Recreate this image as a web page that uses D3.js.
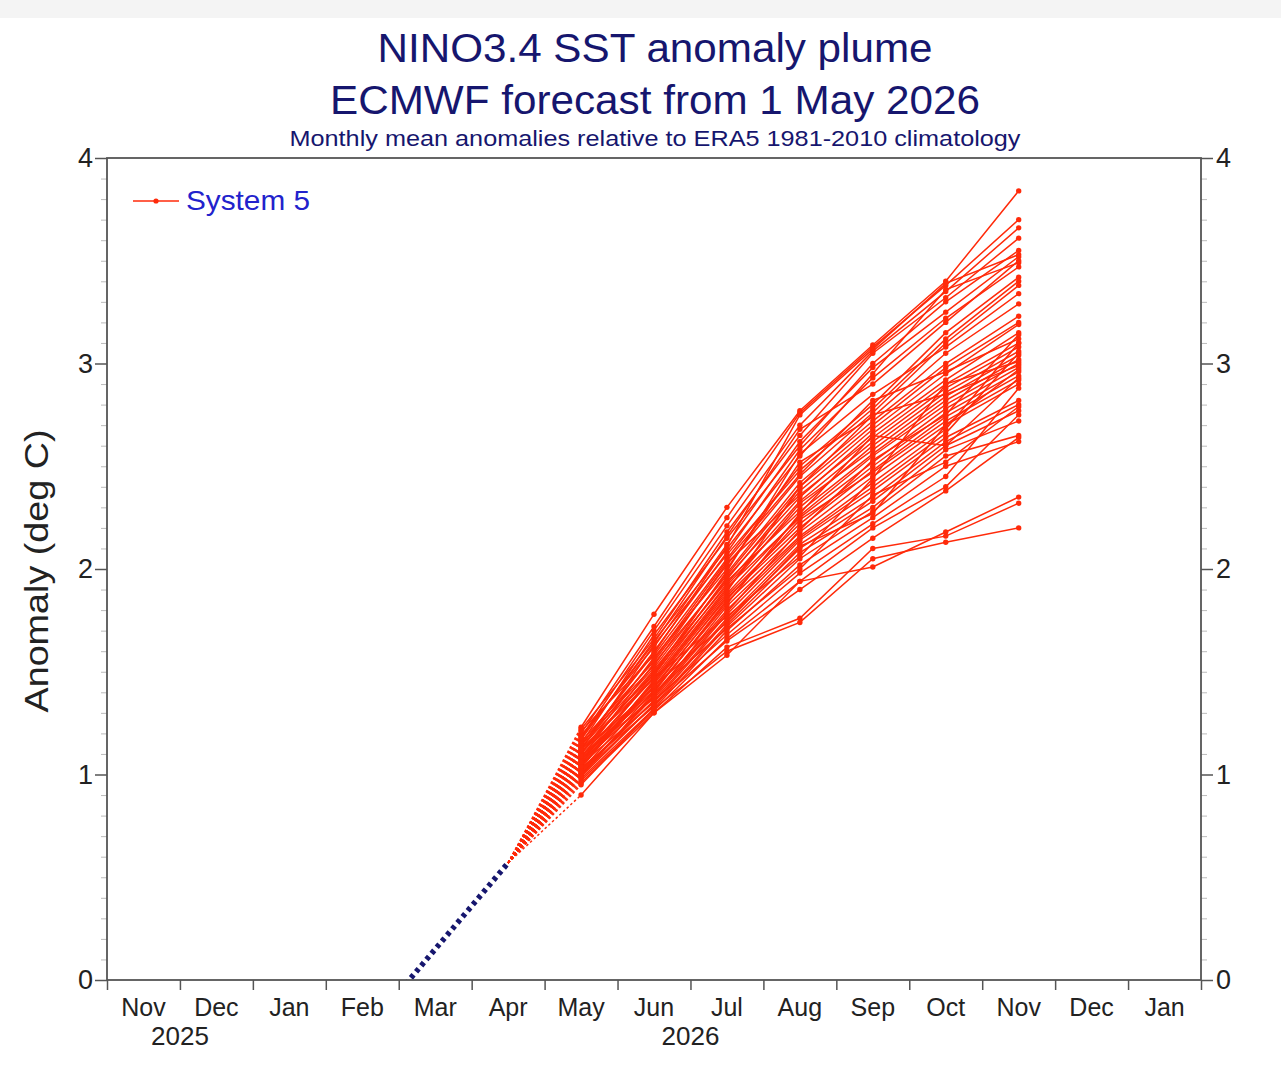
<!DOCTYPE html>
<html>
<head>
<meta charset="utf-8">
<script src="https://cdn.jsdelivr.net/npm/d3@7"></script>
<style>
  html, body { margin: 0; padding: 0; background: #fff; }
  svg { display: block; font-family: "Liberation Sans", Arial, Helvetica, sans-serif; }
</style>
</head>
<body>
<div id="chart"></div>
<script>
// month slots on the x axis (Nov 2025 .. Jan 2027)
const monthLabels = ["Nov", "Dec", "Jan", "Feb", "Mar", "Apr", "May", "Jun", "Jul", "Aug", "Sep", "Oct", "Nov", "Dec", "Jan"];
const yearLabels = [
  { label: "2025", from: 0, to: 2 },
  { label: "2026", from: 2, to: 14 }
];
const yTicks = [0, 1, 2, 3, 4];

// observed anomaly (month slot index -> value)
const obsMonths = [0, 1, 2, 3, 4, 5];
const obsValues = [-0.62, -0.58, -0.52, -0.27, 0.15, 0.57];

// forecast months (slot index), Apr is the last observed value
const fcMonths = [6, 7, 8, 9, 10, 11, 12];
// one array per forecast month, index = ensemble member (51 members)
const fcMay = [1.23, 1.20, 1.18, 1.22, 1.15, 1.19, 1.17, 1.14, 1.21, 1.12, 1.16, 1.10, 1.13, 1.08, 1.11, 1.06, 1.15, 1.09, 1.12, 1.05,
  1.10, 1.07, 1.03, 1.11, 1.04, 1.08, 1.02, 1.06, 1.00, 1.09, 1.01, 1.05, 0.99, 1.03, 0.98, 1.02, 0.97, 1.00, 0.96, 0.95,
  0.90, 1.14, 1.18, 1.07, 1.13, 1.04, 1.09, 1.01, 1.12, 0.99, 1.06];
const fcJun = [1.78, 1.72, 1.70, 1.66, 1.68, 1.62, 1.65, 1.60, 1.58, 1.63, 1.55, 1.57, 1.52, 1.54, 1.50, 1.48, 1.53, 1.47, 1.49, 1.45,
  1.51, 1.44, 1.46, 1.42, 1.43, 1.40, 1.41, 1.38, 1.39, 1.37, 1.36, 1.35, 1.34, 1.33, 1.32, 1.36, 1.31, 1.34, 1.30, 1.32,
  1.30, 1.59, 1.64, 1.49, 1.56, 1.45, 1.41, 1.38, 1.47, 1.40, 1.43];
const fcJul = [2.30, 2.25, 2.21, 2.18, 2.15, 2.12, 2.10, 2.08, 2.05, 2.07, 2.02, 2.00, 1.98, 1.97, 1.95, 1.96, 2.03, 1.93, 1.92, 1.90,
  1.94, 1.88, 1.91, 1.87, 1.86, 1.85, 1.84, 1.82, 1.80, 1.78, 1.76, 1.75, 1.73, 1.72, 1.70, 1.68, 1.66, 1.65, 1.62, 1.60,
  1.58, 2.11, 2.16, 1.99, 2.04, 1.89, 1.83, 1.79, 1.77, 1.71, 1.74];
const fcAug = [2.77, 2.76, 2.70, 2.65, 2.60, 2.62, 2.55, 2.58, 2.50, 2.48, 2.45, 2.52, 2.42, 2.40, 2.38, 2.35, 2.36, 2.33, 2.30, 2.32,
  2.28, 2.26, 2.25, 2.22, 2.20, 2.24, 2.18, 2.16, 2.15, 2.14, 2.12, 2.10, 2.08, 2.05, 2.02, 1.98, 1.94, 1.90, 1.76, 1.74,
  1.94, 2.75, 2.68, 2.56, 2.46, 2.40, 2.27, 2.19, 2.06, 2.00, 2.11];
const fcSep = [3.09, 3.08, 3.06, 3.05, 3.00, 2.98, 2.95, 2.93, 2.80, 2.78, 2.76, 2.74, 2.72, 2.70, 2.68, 2.66, 2.64, 2.62, 2.60, 2.58,
  2.56, 2.55, 2.52, 2.50, 2.48, 2.47, 2.45, 2.42, 2.40, 2.38, 2.35, 2.33, 2.30, 2.28, 2.25, 2.22, 2.20, 2.15, 2.10, 2.05,
  2.01, 3.07, 2.90, 2.85, 2.82, 2.75, 2.65, 2.53, 2.44, 2.36, 2.27];
const fcOct = [3.40, 3.38, 3.35, 3.32, 3.30, 3.25, 3.36, 3.22, 3.15, 3.12, 3.10, 3.05, 3.00, 2.98, 2.95, 2.92, 2.90, 2.88, 2.86, 2.84,
  2.82, 2.80, 2.78, 2.76, 2.74, 2.72, 2.70, 2.68, 2.66, 2.64, 2.62, 2.60, 2.58, 2.55, 2.50, 2.45, 2.40, 2.38, 2.16, 2.13,
  2.18, 3.39, 3.20, 3.08, 2.96, 2.85, 2.60, 2.75, 2.90, 2.52, 2.70];
const fcNov = [3.84, 3.70, 3.66, 3.61, 3.55, 3.52, 3.49, 3.47, 3.42, 3.40, 3.38, 3.29, 3.23, 3.20, 3.19, 3.15, 3.10, 3.08, 3.06, 3.04,
  3.02, 3.00, 2.98, 2.96, 2.94, 2.92, 2.90, 3.10, 3.05, 2.82, 2.80, 2.77, 2.72, 2.65, 2.62, 2.88, 2.75, 2.64, 2.32, 2.20,
  2.35, 3.53, 3.50, 3.34, 3.12, 2.99, 2.93, 3.14, 3.01, 2.79, 2.97];

const width = 1281;
const height = 1080;
const margin = { left: 107, right: 80, top: 158, bottom: 100 };
const plotW = width - margin.left - margin.right;   // ~1094
const plotH = height - margin.top - margin.bottom;  // ~822

const RED = "#ff2a0a";
const NAVY = "#16166e";
const AXIS = "#555";

const x = d3.scaleLinear().domain([0, monthLabels.length]).range([margin.left, margin.left + plotW]);
const y = d3.scaleLinear().domain([0, 4]).range([margin.top + plotH, margin.top]);

const svg = d3.select("#chart").append("svg")
  .attr("width", width)
  .attr("height", height)
  .attr("viewBox", [0, 0, width, height]);

svg.append("rect").attr("width", width).attr("height", height).attr("fill", "#fff");
svg.append("rect").attr("width", width).attr("height", 18).attr("fill", "#f4f4f4");

// titles (the original font is a little wider than Liberation Sans)
const titles = svg.append("g").attr("fill", NAVY).attr("text-anchor", "middle");
titles.append("text").attr("x", 655).attr("y", 62).attr("font-size", 40)
  .attr("textLength", 555).attr("lengthAdjust", "spacingAndGlyphs")
  .text("NINO3.4 SST anomaly plume");
titles.append("text").attr("x", 655).attr("y", 114).attr("font-size", 40)
  .attr("textLength", 650).attr("lengthAdjust", "spacingAndGlyphs")
  .text("ECMWF forecast from 1 May 2026");
titles.append("text").attr("x", 655).attr("y", 146).attr("font-size", 22)
  .attr("textLength", 731).attr("lengthAdjust", "spacingAndGlyphs")
  .text("Monthly mean anomalies relative to ERA5 1981-2010 climatology");

// clip to the plot box
svg.append("clipPath").attr("id", "plot-clip")
  .append("rect")
  .attr("x", margin.left).attr("y", margin.top)
  .attr("width", plotW).attr("height", plotH);

// y minor ticks (every 0.1, outward, both sides)
const minor = d3.range(0, 41).map(d => d / 10).filter(d => d % 1 !== 0);
const yAxisL = d3.axisLeft(y).tickValues(minor).tickSize(6).tickFormat("");
const yAxisR = d3.axisRight(y).tickValues(minor).tickSize(6).tickFormat("");
svg.append("g").attr("transform", `translate(${margin.left},0)`).call(yAxisL)
  .call(g => g.select(".domain").remove())
  .call(g => g.selectAll("line").attr("stroke", "#bbb"));
svg.append("g").attr("transform", `translate(${margin.left + plotW},0)`).call(yAxisR)
  .call(g => g.select(".domain").remove())
  .call(g => g.selectAll("line").attr("stroke", "#bbb"));

// y major ticks
svg.append("g").attr("transform", `translate(${margin.left},0)`)
  .call(d3.axisLeft(y).tickValues(yTicks).tickSize(12).tickPadding(2).tickFormat(d3.format("d")))
  .call(g => g.select(".domain").remove())
  .call(g => g.selectAll("line").attr("stroke", AXIS).attr("stroke-width", 1.5))
  .call(g => g.selectAll("text").attr("font-size", 27).attr("fill", "#222").attr("font-family", null));
svg.append("g").attr("transform", `translate(${margin.left + plotW},0)`)
  .call(d3.axisRight(y).tickValues(yTicks).tickSize(12).tickPadding(3).tickFormat(d3.format("d")))
  .call(g => g.select(".domain").remove())
  .call(g => g.selectAll("line").attr("stroke", AXIS).attr("stroke-width", 1.5))
  .call(g => g.selectAll("text").attr("font-size", 27).attr("fill", "#222").attr("font-family", null));

// x axis: month boundary ticks + month labels at mid-month
const xAxis = svg.append("g").attr("transform", `translate(0,${margin.top + plotH})`);
xAxis.call(d3.axisBottom(x).tickValues(d3.range(0, monthLabels.length + 1)).tickSize(10).tickFormat(""))
  .call(g => g.select(".domain").remove())
  .call(g => g.selectAll("line").attr("stroke", AXIS).attr("stroke-width", 1.5));
xAxis.selectAll("text.month")
  .data(monthLabels)
  .join("text")
  .attr("class", "month")
  .attr("x", (d, i) => x(i + 0.5))
  .attr("y", 36)
  .attr("text-anchor", "middle")
  .attr("font-size", 25)
  .attr("fill", "#222")
  .text(d => d);
xAxis.selectAll("text.year")
  .data(yearLabels)
  .join("text")
  .attr("class", "year")
  .attr("x", d => (x(d.from) + x(d.to)) / 2)
  .attr("y", 65)
  .attr("text-anchor", "middle")
  .attr("font-size", 26)
  .attr("fill", "#222")
  .text(d => d.label);

// y label
svg.append("text")
  .attr("transform", `translate(48,571) rotate(-90)`)
  .attr("text-anchor", "middle")
  .attr("font-size", 34)
  .attr("textLength", 283).attr("lengthAdjust", "spacingAndGlyphs")
  .attr("fill", "#222")
  .text("Anomaly (deg C)");

// plot area
const plot = svg.append("g").attr("clip-path", "url(#plot-clip)");

const members = d3.range(fcMay.length).map(i =>
  [fcMay[i], fcJun[i], fcJul[i], fcAug[i], fcSep[i], fcOct[i], fcNov[i]]
    .map((v, j) => ({ m: fcMonths[j], v }))
);
const lastObs = { m: obsMonths[obsMonths.length - 1], v: obsValues[obsValues.length - 1] };
const line = d3.line().x(d => x(d.m + 0.5)).y(d => y(d.v));

// dotted link from last observation to first forecast month
plot.append("g")
  .selectAll("path")
  .data(members)
  .join("path")
  .attr("d", d => line([lastObs, d[0]]))
  .attr("fill", "none")
  .attr("stroke", RED)
  .attr("stroke-width", 1.5)
  .attr("stroke-dasharray", "2.5,2.5");

// forecast members
plot.append("g")
  .selectAll("path")
  .data(members)
  .join("path")
  .attr("d", line)
  .attr("fill", "none")
  .attr("stroke", RED)
  .attr("stroke-width", 1.5);

plot.append("g")
  .attr("fill", RED)
  .selectAll("circle")
  .data(members.flat())
  .join("circle")
  .attr("cx", d => x(d.m + 0.5))
  .attr("cy", d => y(d.v))
  .attr("r", 2.7);

// observed
plot.append("path")
  .datum(obsMonths.map((m, i) => ({ m, v: obsValues[i] })))
  .attr("d", line)
  .attr("fill", "none")
  .attr("stroke", NAVY)
  .attr("stroke-width", 5.5)
  .attr("stroke-dasharray", "4,4");

// frame
svg.append("rect")
  .attr("x", margin.left).attr("y", margin.top)
  .attr("width", plotW).attr("height", plotH)
  .attr("fill", "none")
  .attr("stroke", AXIS)
  .attr("stroke-width", 1.8);

// legend
const legend = svg.append("g").attr("transform", "translate(133,201)");
legend.append("line").attr("x1", 0).attr("x2", 46).attr("stroke", RED).attr("stroke-width", 1.4);
legend.append("circle").attr("cx", 23).attr("r", 2.6).attr("fill", RED);
legend.append("text").attr("x", 53).attr("y", 9).attr("font-size", 28)
  .attr("textLength", 124).attr("lengthAdjust", "spacingAndGlyphs")
  .attr("fill", "#2222cc").text("System 5");
</script>
</body>
</html>
